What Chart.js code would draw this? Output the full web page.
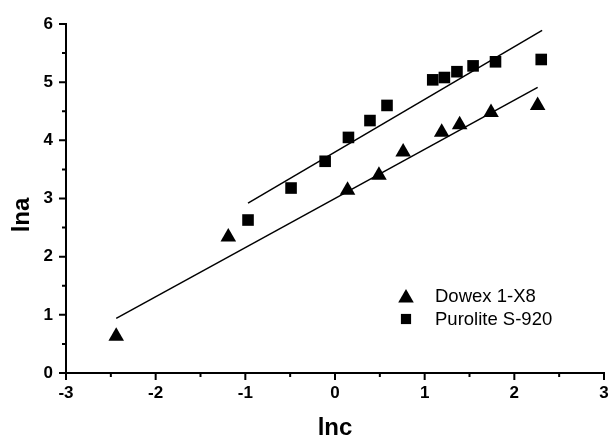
<!DOCTYPE html>
<html>
<head>
<meta charset="utf-8">
<script src="https://cdn.jsdelivr.net/npm/chart.js@4/dist/chart.umd.min.js"></script>
<style>
  html, body { margin: 0; padding: 0; background: #fff; overflow: hidden; }
  #wrap { width: 613px; height: 439px; }
</style>
</head>
<body>
<div id="wrap"><canvas id="chart"></canvas></div>
<script>
// Data
const dowexLabel = 'Dowex 1-X8';
const dowexX = [-2.44, -1.19, 0.14, 0.49, 0.76, 1.19, 1.39, 1.74, 2.26];
const dowexY = [0.63, 2.34, 3.14, 3.40, 3.80, 4.14, 4.27, 4.48, 4.60];

const puroLabel = 'Purolite S-920';
const puroX = [-0.97, -0.49, -0.11, 0.15, 0.39, 0.58, 1.09, 1.22, 1.36, 1.54, 1.79, 2.30];
const puroY = [2.63, 3.18, 3.64, 4.05, 4.34, 4.60, 5.04, 5.08, 5.18, 5.28, 5.35, 5.39];

// Linear fit lines (end points)
const dowexFitX = [-2.44, 2.26];
const dowexFitY = [0.94, 4.91];
const puroFitX = [-0.97, 2.31];
const puroFitY = [2.92, 5.89];

const xTitle = 'lnc';
const yTitle = 'lna';

const xMin = -3, xMax = 3;
const yMin = 0, yMax = 6;

const FONT = '"Liberation Sans", Arial, sans-serif';

function toPoints(xs, ys) {
    return xs.map((x, i) => ({ x: x, y: ys[i] }));
}

// Major + minor tick marks drawn outward from the axes
const tickMarks = {
    id: 'tickMarks',
    afterDraw(chart) {
        const ctx = chart.ctx;
        const xs = chart.scales.x;
        const ys = chart.scales.y;
        const area = chart.chartArea;
        ctx.save();
        ctx.strokeStyle = '#000';
        ctx.lineWidth = 2;
        ctx.beginPath();
        for (let v = xMin; v <= xMax + 1e-9; v += 0.5) {
            const px = xs.getPixelForValue(v);
            const len = Number.isInteger(v) ? 7 : 4;
            ctx.moveTo(px, area.bottom);
            ctx.lineTo(px, area.bottom + len);
        }
        for (let v = yMin; v <= yMax + 1e-9; v += 0.5) {
            const py = ys.getPixelForValue(v);
            const len = Number.isInteger(v) ? 7 : 4;
            ctx.moveTo(area.left, py);
            ctx.lineTo(area.left - len, py);
        }
        ctx.stroke();
        ctx.restore();
    }
};

// Axis titles (placed like the original, y title sits a bit below centre)
const axisTitles = {
    id: 'axisTitles',
    afterDraw(chart) {
        const ctx = chart.ctx;
        const area = chart.chartArea;
        ctx.save();
        ctx.fillStyle = '#000';
        ctx.font = 'bold 24px ' + FONT;
        ctx.textAlign = 'center';
        ctx.textBaseline = 'middle';
        ctx.fillText(xTitle, (area.left + area.right) / 2, 428);
        ctx.translate(22, 215);
        ctx.rotate(-Math.PI / 2);
        ctx.fillText(yTitle, 0, 0);
        ctx.restore();
    }
};

// Legend inside the plot
const innerLegend = {
    id: 'innerLegend',
    afterDraw(chart) {
        const ctx = chart.ctx;
        const items = [
            { label: dowexLabel, style: 'triangle', radius: 9, x: 406, y: 296 },
            { label: puroLabel, style: 'rect', radius: 7.2, x: 406, y: 319 }
        ];
        ctx.save();
        items.forEach(it => {
            ctx.fillStyle = '#000';
            ctx.strokeStyle = '#000';
            Chart.helpers.drawPoint(ctx, { pointStyle: it.style, radius: it.radius, rotation: 0, borderWidth: 0 }, it.x, it.y + (it.style === 'triangle' ? 2 : 0));
            ctx.font = '18.5px ' + FONT;
            ctx.textBaseline = 'middle';
            ctx.textAlign = 'left';
            ctx.fillText(it.label, 435, it.y + 1);
        });
        ctx.restore();
    }
};

new Chart(document.getElementById('chart'), {
    type: 'scatter',
    data: {
        datasets: [
            {
                label: dowexLabel,
                data: toPoints(dowexX, dowexY),
                pointStyle: 'triangle',
                pointRadius: 9,
                pointBackgroundColor: '#000',
                pointBorderColor: '#000',
                pointBorderWidth: 0
            },
            {
                label: puroLabel,
                data: toPoints(puroX, puroY),
                pointStyle: 'rect',
                pointRadius: 8.2,
                pointBackgroundColor: '#000',
                pointBorderColor: '#000',
                pointBorderWidth: 0
            },
            {
                label: 'fit1',
                data: toPoints(dowexFitX, dowexFitY),
                showLine: true,
                pointRadius: 0,
                borderColor: '#000',
                borderWidth: 1.5
            },
            {
                label: 'fit2',
                data: toPoints(puroFitX, puroFitY),
                showLine: true,
                pointRadius: 0,
                borderColor: '#000',
                borderWidth: 1.5
            }
        ]
    },
    options: {
        responsive: true,
        maintainAspectRatio: false,
        animation: false,
        layout: { padding: { top: 24, right: 6, left: 0, bottom: 0 } },
        plugins: {
            legend: { display: false },
            tooltip: { enabled: false }
        },
        scales: {
            x: {
                type: 'linear',
                min: xMin,
                max: xMax,
                afterFit: (scale) => {
                    scale.height = 66;
                    scale.paddingLeft = 0;
                    scale.paddingRight = 0;
                },
                ticks: {
                    stepSize: 1,
                    color: '#000',
                    padding: 10,
                    font: { family: FONT, size: 17, weight: 'bold' }
                },
                grid: { display: true, drawOnChartArea: false, drawTicks: false },
                border: { display: true, color: '#000', width: 2 },
                title: { display: false }
            },
            y: {
                type: 'linear',
                min: yMin,
                max: yMax,
                afterFit: (scale) => {
                    scale.width = 66;
                    scale.paddingTop = 0;
                    scale.paddingBottom = 0;
                },
                ticks: {
                    stepSize: 1,
                    color: '#000',
                    padding: 13,
                    font: { family: FONT, size: 17, weight: 'bold' }
                },
                grid: { display: true, drawOnChartArea: false, drawTicks: false },
                border: { display: true, color: '#000', width: 2 },
                title: { display: false }
            }
        }
    },
    plugins: [tickMarks, axisTitles, innerLegend]
});
</script>
</body>
</html>
